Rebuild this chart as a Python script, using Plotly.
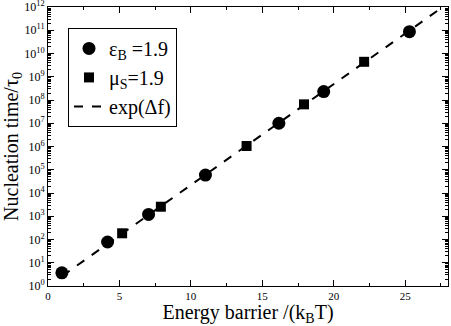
import plotly.graph_objects as go

# epsilon_B series (circles)
eps_x = [0.97, 4.17, 7.04, 11.02, 16.16, 19.3, 25.3]
eps_y = [3.7, 78, 1200, 59000, 1.0e7, 2.3e8, 8.7e10]

# mu_S series (squares)
mu_x = [5.19, 7.9, 13.9, 17.92, 22.13]
mu_y = [185, 2570, 1.05e6, 6.5e7, 4.4e9]

# exp(delta f) reference line endpoints
line_x = [1.0, 28.0]
line_y = [2.72, 1.446e12]

# tick labels
x_tickvals = [0, 5, 10, 15, 20, 25]
x_ticktext = ["0", "5", "10", "15", "20", "25"]
y_exponents = list(range(0, 13))

FONT = "Liberation Serif, Times New Roman, serif"

y_tickvals = [10 ** e for e in y_exponents]
y_ticktext = ["10<sup>%d</sup>" % e for e in y_exponents]
y_minor = [m * 10 ** e for e in y_exponents[:-1] for m in range(2, 10)]

fig = go.Figure()
fig.add_trace(go.Scatter(
    x=eps_x, y=eps_y, mode="markers", name="ε<sub>B</sub> =1.9",
    marker=dict(symbol="circle", size=13, color="black"),
))
fig.add_trace(go.Scatter(
    x=mu_x, y=mu_y, mode="markers", name="μ<sub>S</sub>=1.9",
    marker=dict(symbol="square", size=10, color="black"),
))
fig.add_trace(go.Scatter(
    x=line_x, y=line_y, mode="lines", name="exp(Δf)",
    line=dict(color="black", width=2, dash="dash"),
))

fig.update_layout(
    width=451, height=326,
    margin=dict(l=48, r=3, t=7, b=40),
    paper_bgcolor="white", plot_bgcolor="white",
    font=dict(family=FONT, color="black"),
    showlegend=True,
    legend=dict(
        x=0.05, y=0.925, xanchor="left", yanchor="top",
        bgcolor="white", bordercolor="black", borderwidth=1,
        font=dict(family=FONT, size=20, color="black"),
        tracegroupgap=0, itemwidth=30,
    ),
)

fig.update_xaxes(
    range=[0, 28], showline=True, linecolor="black", linewidth=1,
    mirror="allticks", ticks="inside", ticklen=6, tickcolor="black",
    tickmode="array", tickvals=x_tickvals, ticktext=x_ticktext,
    tickfont=dict(family=FONT, size=11, color="black"),
    showgrid=False, zeroline=False, automargin=False,
    minor=dict(ticks="inside", ticklen=3, dtick=2.5, tick0=0, tickcolor="black", showgrid=False),
    title=dict(text="Energy barrier /(k<sub>B</sub>T)", font=dict(family=FONT, size=20, color="black"), standoff=2),
)

fig.update_yaxes(
    type="log", range=[0, 12.0005], showline=True, linecolor="black", linewidth=1,
    mirror="allticks", ticks="inside", ticklen=6, tickcolor="black",
    tickmode="array", tickvals=y_tickvals, ticktext=y_ticktext,
    tickfont=dict(family=FONT, size=12, color="black"),
    ticklabeloverflow="allow",
    showgrid=False, zeroline=False, automargin=False,
    minor=dict(ticks="inside", ticklen=3, tickvals=y_minor, tickcolor="black", showgrid=False),
    title=dict(text="Nucleation time/τ<sub>0</sub>", font=dict(family=FONT, size=20, color="black"), standoff=0),
)

fig.write_html(
    "out.html",
    config={"displayModeBar": False},
    post_script="document.body.style.margin='0';document.body.style.overflow='hidden';",
)
